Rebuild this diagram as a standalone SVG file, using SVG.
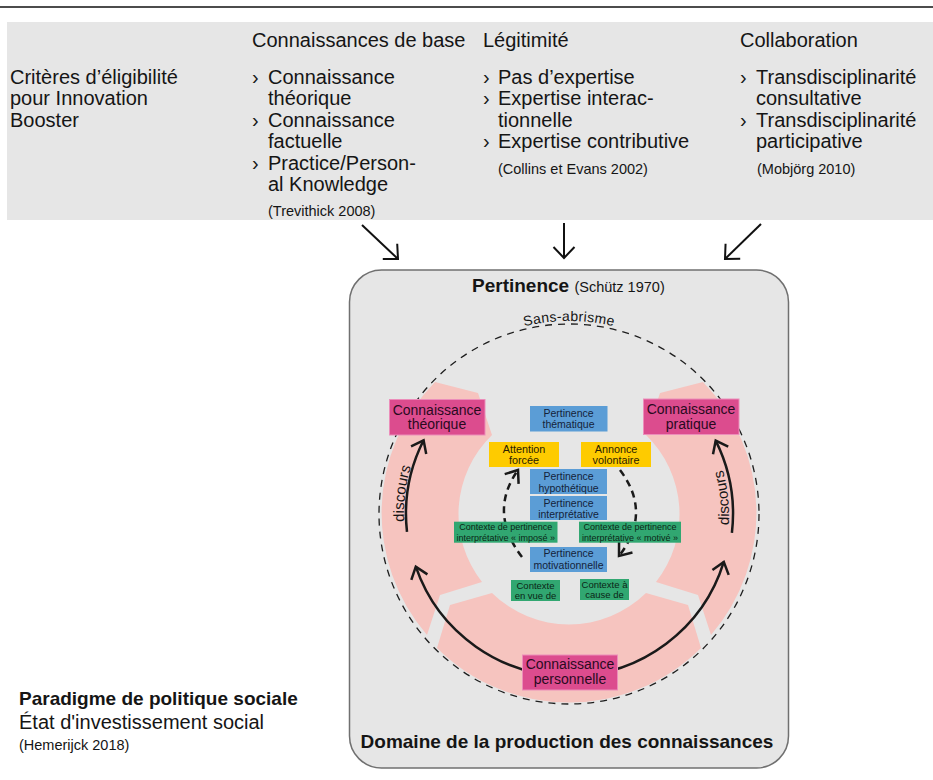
<svg xmlns="http://www.w3.org/2000/svg" width="933" height="780" viewBox="0 0 933 780">
  <style>
    text { font-family: "Liberation Sans", Arial, sans-serif; fill: #151515; }
    .hd { font-size: 20px; }
    .cite { font-size: 14.5px; }
    .mag rect { fill: #dc4c8e; stroke: #ec8dba; stroke-width: 1; }
    .mag text { font-size: 14px; text-anchor: middle; fill: #2a0a1e; }
    .blue rect { fill: #5b9dd6; }
    .blue text { font-size: 10.5px; text-anchor: middle; fill: #14233a; }
    .yel rect { fill: #fecb00; }
    .yel text { font-size: 10.8px; text-anchor: middle; fill: #2a2100; }
    .grn rect { fill: #31a771; }
    .grn text { font-size: 9px; text-anchor: middle; fill: #0b2616; }
    .grn text.s { font-size: 9.5px; }
    .arc { fill: none; stroke: #1a1a1a; stroke-width: 2.5; }
    .dash { fill: none; stroke: #1a1a1a; stroke-width: 2.5; stroke-dasharray: 7 5; }
    .ptr { fill: none; stroke: #111; stroke-width: 2; }
  </style>
  <defs>
    <marker id="head" markerUnits="userSpaceOnUse" markerWidth="30" markerHeight="30" refX="0" refY="0" viewBox="-15 -15 30 30" orient="auto-start-reverse" overflow="visible">
      <path d="M -11 -8.5 L 0 0 L -11 8.5" fill="none" stroke="#1a1a1a" stroke-width="2.5"/>
    </marker>
    <marker id="headTop" markerUnits="userSpaceOnUse" markerWidth="30" markerHeight="30" refX="0" refY="0" viewBox="-15 -15 30 30" orient="auto" overflow="visible">
      <path d="M -11 -10.5 L 0 0 L -11 10.5" fill="none" stroke="#111" stroke-width="2"/>
    </marker>
    <path id="arcSans" d="M 472.5 346.9 A 192.5 192.5 0 0 1 665.5 346.9"/>
    <path id="arcDiscL" d="M 409.6 556.7 A 166 166 0 0 1 424.7 434"/>
    <path id="arcDiscR" d="M 722.8 558.1 A 160 160 0 0 0 710.3 438.9"/>
  </defs>

  <!-- top rule and criteria band -->
  <line x1="0" y1="7" x2="933" y2="7" stroke="#111" stroke-width="1.5"/>
  <rect x="7" y="22" width="926" height="198" fill="#e6e6e6"/>

  <g id="criteria">
    <text class="hd" x="10" y="84">Critères d’éligibilité</text>
    <text class="hd" x="10" y="105">pour Innovation</text>
    <text class="hd" x="10" y="126.5">Booster</text>
  </g>
  <g id="base-knowledge">
    <text class="hd" x="252" y="47">Connaissances de base</text>
    <text class="hd" x="252" y="84">›<tspan x="268">Connaissance</tspan></text>
    <text class="hd" x="268" y="105">théorique</text>
    <text class="hd" x="252" y="126.5">›<tspan x="268">Connaissance</tspan></text>
    <text class="hd" x="268" y="148">factuelle</text>
    <text class="hd" x="252" y="169.5">›<tspan x="268">Practice/Person-</tspan></text>
    <text class="hd" x="268" y="191">al Knowledge</text>
    <text class="cite" x="268" y="216">(Trevithick 2008)</text>
  </g>
  <g id="legitimacy">
    <text class="hd" x="483" y="47">Légitimité</text>
    <text class="hd" x="483" y="84">›<tspan x="498">Pas d’expertise</tspan></text>
    <text class="hd" x="483" y="105">›<tspan x="498">Expertise interac-</tspan></text>
    <text class="hd" x="498" y="126.5">tionnelle</text>
    <text class="hd" x="483" y="148">›<tspan x="498">Expertise contributive</tspan></text>
    <text class="cite" x="498" y="174">(Collins et Evans 2002)</text>
  </g>
  <g id="collaboration">
    <text class="hd" x="740" y="47">Collaboration</text>
    <text class="hd" x="740" y="84">›<tspan x="756">Transdisciplinarité</tspan></text>
    <text class="hd" x="756" y="105">consultative</text>
    <text class="hd" x="740" y="126.5">›<tspan x="756">Transdisciplinarité</tspan></text>
    <text class="hd" x="756" y="148">participative</text>
    <text class="cite" x="757" y="174">(Mobjörg 2010)</text>
  </g>

  <!-- knowledge production domain -->
  <g id="domain">
    <rect x="349.5" y="270" width="439" height="498" rx="32" fill="#e6e6e6" stroke="#707070" stroke-width="1.5"/>
    <text x="472" y="291.5" style="font-size:19px;font-weight:bold">Pertinence <tspan style="font-size:14.5px;font-weight:normal">(Schütz 1970)</tspan></text>
    <text x="567" y="748" text-anchor="middle" style="font-size:19px;font-weight:bold">Domaine de la production des connaissances</text>
  </g>

  <!-- ring of knowledge forms -->
  <g id="ring" fill="#f6c4bf">
    <path d="M 435 382 A 187 187 0 0 0 427 635 L 440 595 L 482 582 A 110 110 0 0 1 492 435 L 478 393 Z"/>
    <path d="M 703 382 A 187 187 0 0 1 711 635 L 698 595 L 656 582 A 110 110 0 0 0 646 435 L 660 393 Z"/>
    <path d="M 492 593 L 450 605 L 437 648 A 187 187 0 0 0 701 648 L 688 605 L 646 593 A 110 110 0 0 1 492 593 Z"/>
  </g>

  <!-- homelessness field -->
  <g id="homelessness">
    <circle cx="569" cy="514" r="190" fill="none" stroke="#1e1e1e" stroke-width="1.3" stroke-dasharray="7 6"/>
    <text style="font-size:14px;letter-spacing:0.3px"><textPath href="#arcSans" startOffset="50%" text-anchor="middle">Sans-abrisme</textPath></text>
  </g>

  <!-- connectors -->
  <g id="connectors">
    <line class="ptr" x1="362" y1="225" x2="398" y2="259" marker-end="url(#headTop)"/>
    <line class="ptr" x1="564" y1="223" x2="564" y2="258" marker-end="url(#headTop)"/>
    <line class="ptr" x1="761" y1="224" x2="725" y2="259" marker-end="url(#headTop)"/>

    <path class="arc" d="M 407 531.9 A 163 163 0 0 1 423.6 440.3" marker-end="url(#head)"/>
    <path class="arc" d="M 731.9 532.8 A 164 164 0 0 0 715.7 440.6" marker-end="url(#head)"/>
    <path class="arc" d="M 415.8 566.7 A 162 162 0 0 0 723.8 561.9" marker-start="url(#head)" marker-end="url(#head)"/>

    <path class="dash" d="M 522 557 Q 488 512.5 518 470" marker-end="url(#head)"/>
    <path class="dash" d="M 620 470 Q 652.5 513 619 556" marker-end="url(#head)"/>

    <text style="font-size:15px"><textPath href="#arcDiscL" startOffset="50%" text-anchor="middle">discours</textPath></text>
    <text style="font-size:15px"><textPath href="#arcDiscR" startOffset="50%" text-anchor="middle">discours</textPath></text>
  </g>

  <!-- knowledge nodes -->
  <g id="k-theorique" class="mag">
    <rect x="389.5" y="399.5" width="95.5" height="35.5"/>
    <text x="437" y="414.5">Connaissance</text>
    <text x="437" y="429">théorique</text>
  </g>
  <g id="k-pratique" class="mag">
    <rect x="643.5" y="399" width="95.5" height="35.5"/>
    <text x="691" y="414">Connaissance</text>
    <text x="691" y="428.5">pratique</text>
  </g>
  <g id="k-personnelle" class="mag">
    <rect x="522.5" y="655" width="95" height="35"/>
    <text x="570" y="669">Connaissance</text>
    <text x="570" y="684">personnelle</text>
  </g>

  <!-- relevance nodes -->
  <g id="p-thematique" class="blue">
    <rect x="530" y="406" width="77.5" height="25.5"/>
    <text x="568.5" y="416.5">Pertinence</text>
    <text x="568.5" y="428">thématique</text>
  </g>
  <g id="attention" class="yel">
    <rect x="489" y="442" width="70" height="25"/>
    <text x="524" y="452.7">Attention</text>
    <text x="524" y="463.7">forcée</text>
  </g>
  <g id="annonce" class="yel">
    <rect x="581" y="442" width="70" height="25"/>
    <text x="616" y="452.7">Annonce</text>
    <text x="616" y="463.7">volontaire</text>
  </g>
  <g id="p-hypothetique" class="blue">
    <rect x="530" y="469" width="77" height="25"/>
    <text x="568.5" y="480">Pertinence</text>
    <text x="568.5" y="491.5">hypothétique</text>
  </g>
  <g id="p-interpretative" class="blue">
    <rect x="530" y="496" width="77" height="24"/>
    <text x="568.5" y="506.5">Pertinence</text>
    <text x="568.5" y="518">interprétative</text>
  </g>
  <g id="ctx-impose" class="grn">
    <rect x="454" y="521.7" width="103.5" height="21"/>
    <text x="505.8" y="530">Contexte de pertinence</text>
    <text x="505.8" y="540.5">interprétative « imposé »</text>
  </g>
  <g id="ctx-motive" class="grn">
    <rect x="579" y="521.7" width="102" height="21"/>
    <text x="630" y="530">Contexte de pertinence</text>
    <text x="630" y="540.5">interprétative « motivé »</text>
  </g>
  <g id="p-motivationnelle" class="blue">
    <rect x="530" y="547" width="77" height="25"/>
    <text x="568.5" y="557">Pertinence</text>
    <text x="568.5" y="568.5">motivationnelle</text>
  </g>
  <g id="ctx-en-vue" class="grn">
    <rect x="511" y="580" width="49" height="21"/>
    <text class="s" x="535.5" y="588.5">Contexte</text>
    <text class="s" x="535.5" y="599">en vue de</text>
  </g>
  <g id="ctx-cause" class="grn">
    <rect x="580" y="579" width="49" height="21"/>
    <text class="s" x="604.5" y="587.5">Contexte à</text>
    <text class="s" x="604.5" y="598">cause de</text>
  </g>

  <!-- policy paradigm -->
  <g id="paradigm">
    <text x="19" y="705" style="font-size:19px;font-weight:bold">Paradigme de politique sociale</text>
    <text x="19" y="729" style="font-size:20px">État d'investissement social</text>
    <text x="19" y="750" style="font-size:14.5px">(Hemerijck 2018)</text>
  </g>
</svg>
